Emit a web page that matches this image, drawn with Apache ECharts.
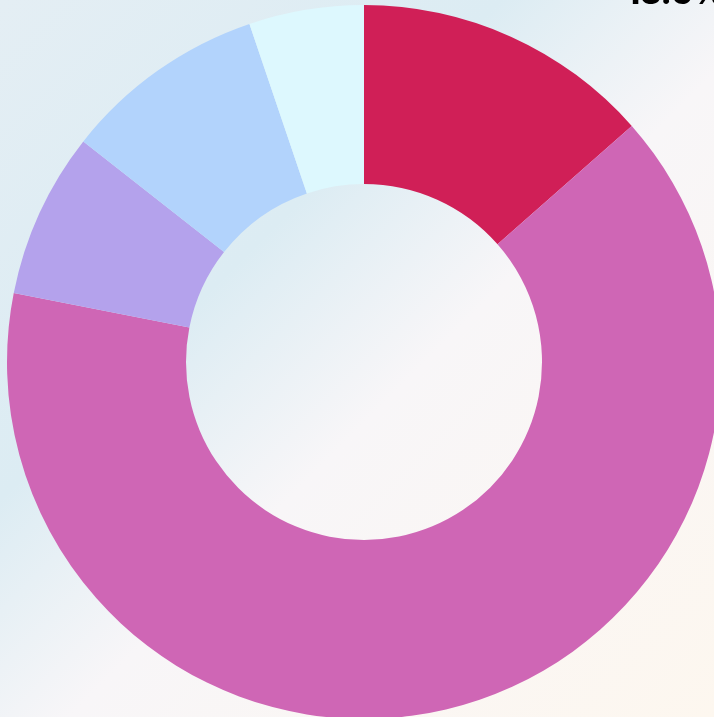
<!DOCTYPE html>
<html>
<head>
<meta charset="utf-8">
<script src="https://cdn.jsdelivr.net/npm/echarts@6/dist/echarts.min.js"></script>
<style>
html,body{margin:0;padding:0;width:714px;height:717px;overflow:hidden;}
#chart{width:714px;height:717px;}
</style>
</head>
<body>
<div id="chart"></div>
<script>
const categories = ['A', 'B', 'C', 'D', 'E'];
const values = [13.5, 64.6, 7.5, 9.2, 5.2];
const colors = ['#d01f57', '#cf66b5', '#b4a2ec', '#b2d3fc', '#ddf8fe'];
const labeledIndex = 0;

const chart = echarts.init(document.getElementById('chart'), null, {renderer: 'canvas'});
const data = categories.map((c, i) => ({
  name: c,
  value: values[i],
  itemStyle: {color: colors[i]},
  label: {show: i === labeledIndex},
  labelLine: {show: false}
}));

chart.setOption({
  backgroundColor: {
    type: 'linear', x: 0, y: 0, x2: 1, y2: 1,
    colorStops: [
      {offset: 0, color: '#e4eef4'},
      {offset: 0.35, color: '#dcecf3'},
      {offset: 0.55, color: '#f8f6f8'},
      {offset: 1, color: '#fdf7ef'}
    ]
  },
  animation: false,
  series: [{
    type: 'pie',
    center: [364, 362],
    radius: [178, 357],
    startAngle: 90,
    clockwise: true,
    avoidLabelOverlap: false,
    label: {
      position: 'outside',
      formatter: (p) => p.percent.toFixed(1) + '%',
      fontFamily: 'Inter',
      fontWeight: 800,
      fontSize: 32,
      color: '#000'
    },
    labelLine: {show: false},
    labelLayout: (p) => p.dataIndex === labeledIndex
      ? {x: 626, y: 10, align: 'left', verticalAlign: 'bottom', fontSize: 32}
      : {},
    data: data
  }]
});
</script>
</body>
</html>
